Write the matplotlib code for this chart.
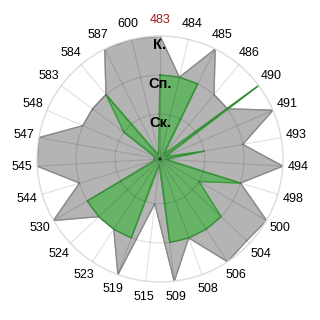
import numpy as np
import matplotlib
matplotlib.use("Agg")
import matplotlib.pyplot as plt

# categories clockwise from the top
categories = ['483', '484', '485', '486', '490', '491', '493', '494', '498',
              '500', '504', '506', '508', '509', '515', '519', '523', '524',
              '530', '544', '545', '547', '548', '583', '584', '587', '600']
grayValues = [3, 2, 3, 2, 2, 3, 2, 3, 2, 3, 2.9, 3, 2, 3, 1, 3, 2, 2,
              3, 2, 3, 3, 2, 2, 2, 3, 3]
greenValues = [2, 2, 2, 0, 3, 0, 1, 0, 2, 1, 2, 2, 2, 2, 0, 2, 2, 2,
               2, 0, 0, 0, 0, 1, 2, 0, 0]
ringLevels = [1, 2, 3]
ringLabels = ['Ск.', 'Сп.', 'К.']

plt.rcParams['font.family'] = ['Liberation Sans', 'DejaVu Sans']

fig = plt.figure(figsize=(3.2, 3.2), dpi=100)
ax = fig.add_axes([0.1156, 0.1188, 0.76875, 0.76875], projection='polar')
ax.set_theta_zero_location('N')
ax.set_theta_direction(-1)

n = len(categories)
theta = np.linspace(0, 2 * np.pi, n, endpoint=False)
thetaClosed = np.append(theta, theta[0])

# Gray series
g = np.append(grayValues, grayValues[0])
ax.fill(thetaClosed, g, color='#b4b4b4', zorder=1)
ax.plot(thetaClosed, g, color='#8a8a8a', linewidth=1, zorder=1.5)

# Green series
gr = np.append(greenValues, greenValues[0])
ax.fill(thetaClosed, gr, color='#67b367', zorder=1.6)
ax.plot(thetaClosed, gr, color='#3d9a3d', linewidth=1, zorder=1.7)

# Grid on top, semi-transparent so it darkens the fills
ax.set_axisbelow(False)
ax.set_ylim(-0.15, 3)
ax.set_xticks(theta)
ax.set_xticklabels([])
ax.set_yticks(ringLevels[:-1])
ax.set_yticklabels([])
ax.grid(True, color='black', alpha=0.12, linewidth=0.8)
ax.spines['polar'].set_color('#dcdcdc')
ax.spines['polar'].set_linewidth(1)
ax.tick_params(length=0)

# Category labels
for t, c in zip(theta, categories):
    col = '#a01c1c' if c == '483' else 'black'
    ax.text(t, 3.4, c, ha='center', va='center', fontsize=9,
            color=col, clip_on=False)

# Ring labels on the vertical axis
for lev, lab in zip(ringLevels, ringLabels):
    ax.text(0, lev - 0.22, lab, ha='center', va='center', fontsize=10.5,
            fontweight='bold', color='black', zorder=5)

fig.savefig('out.png', dpi=100)
